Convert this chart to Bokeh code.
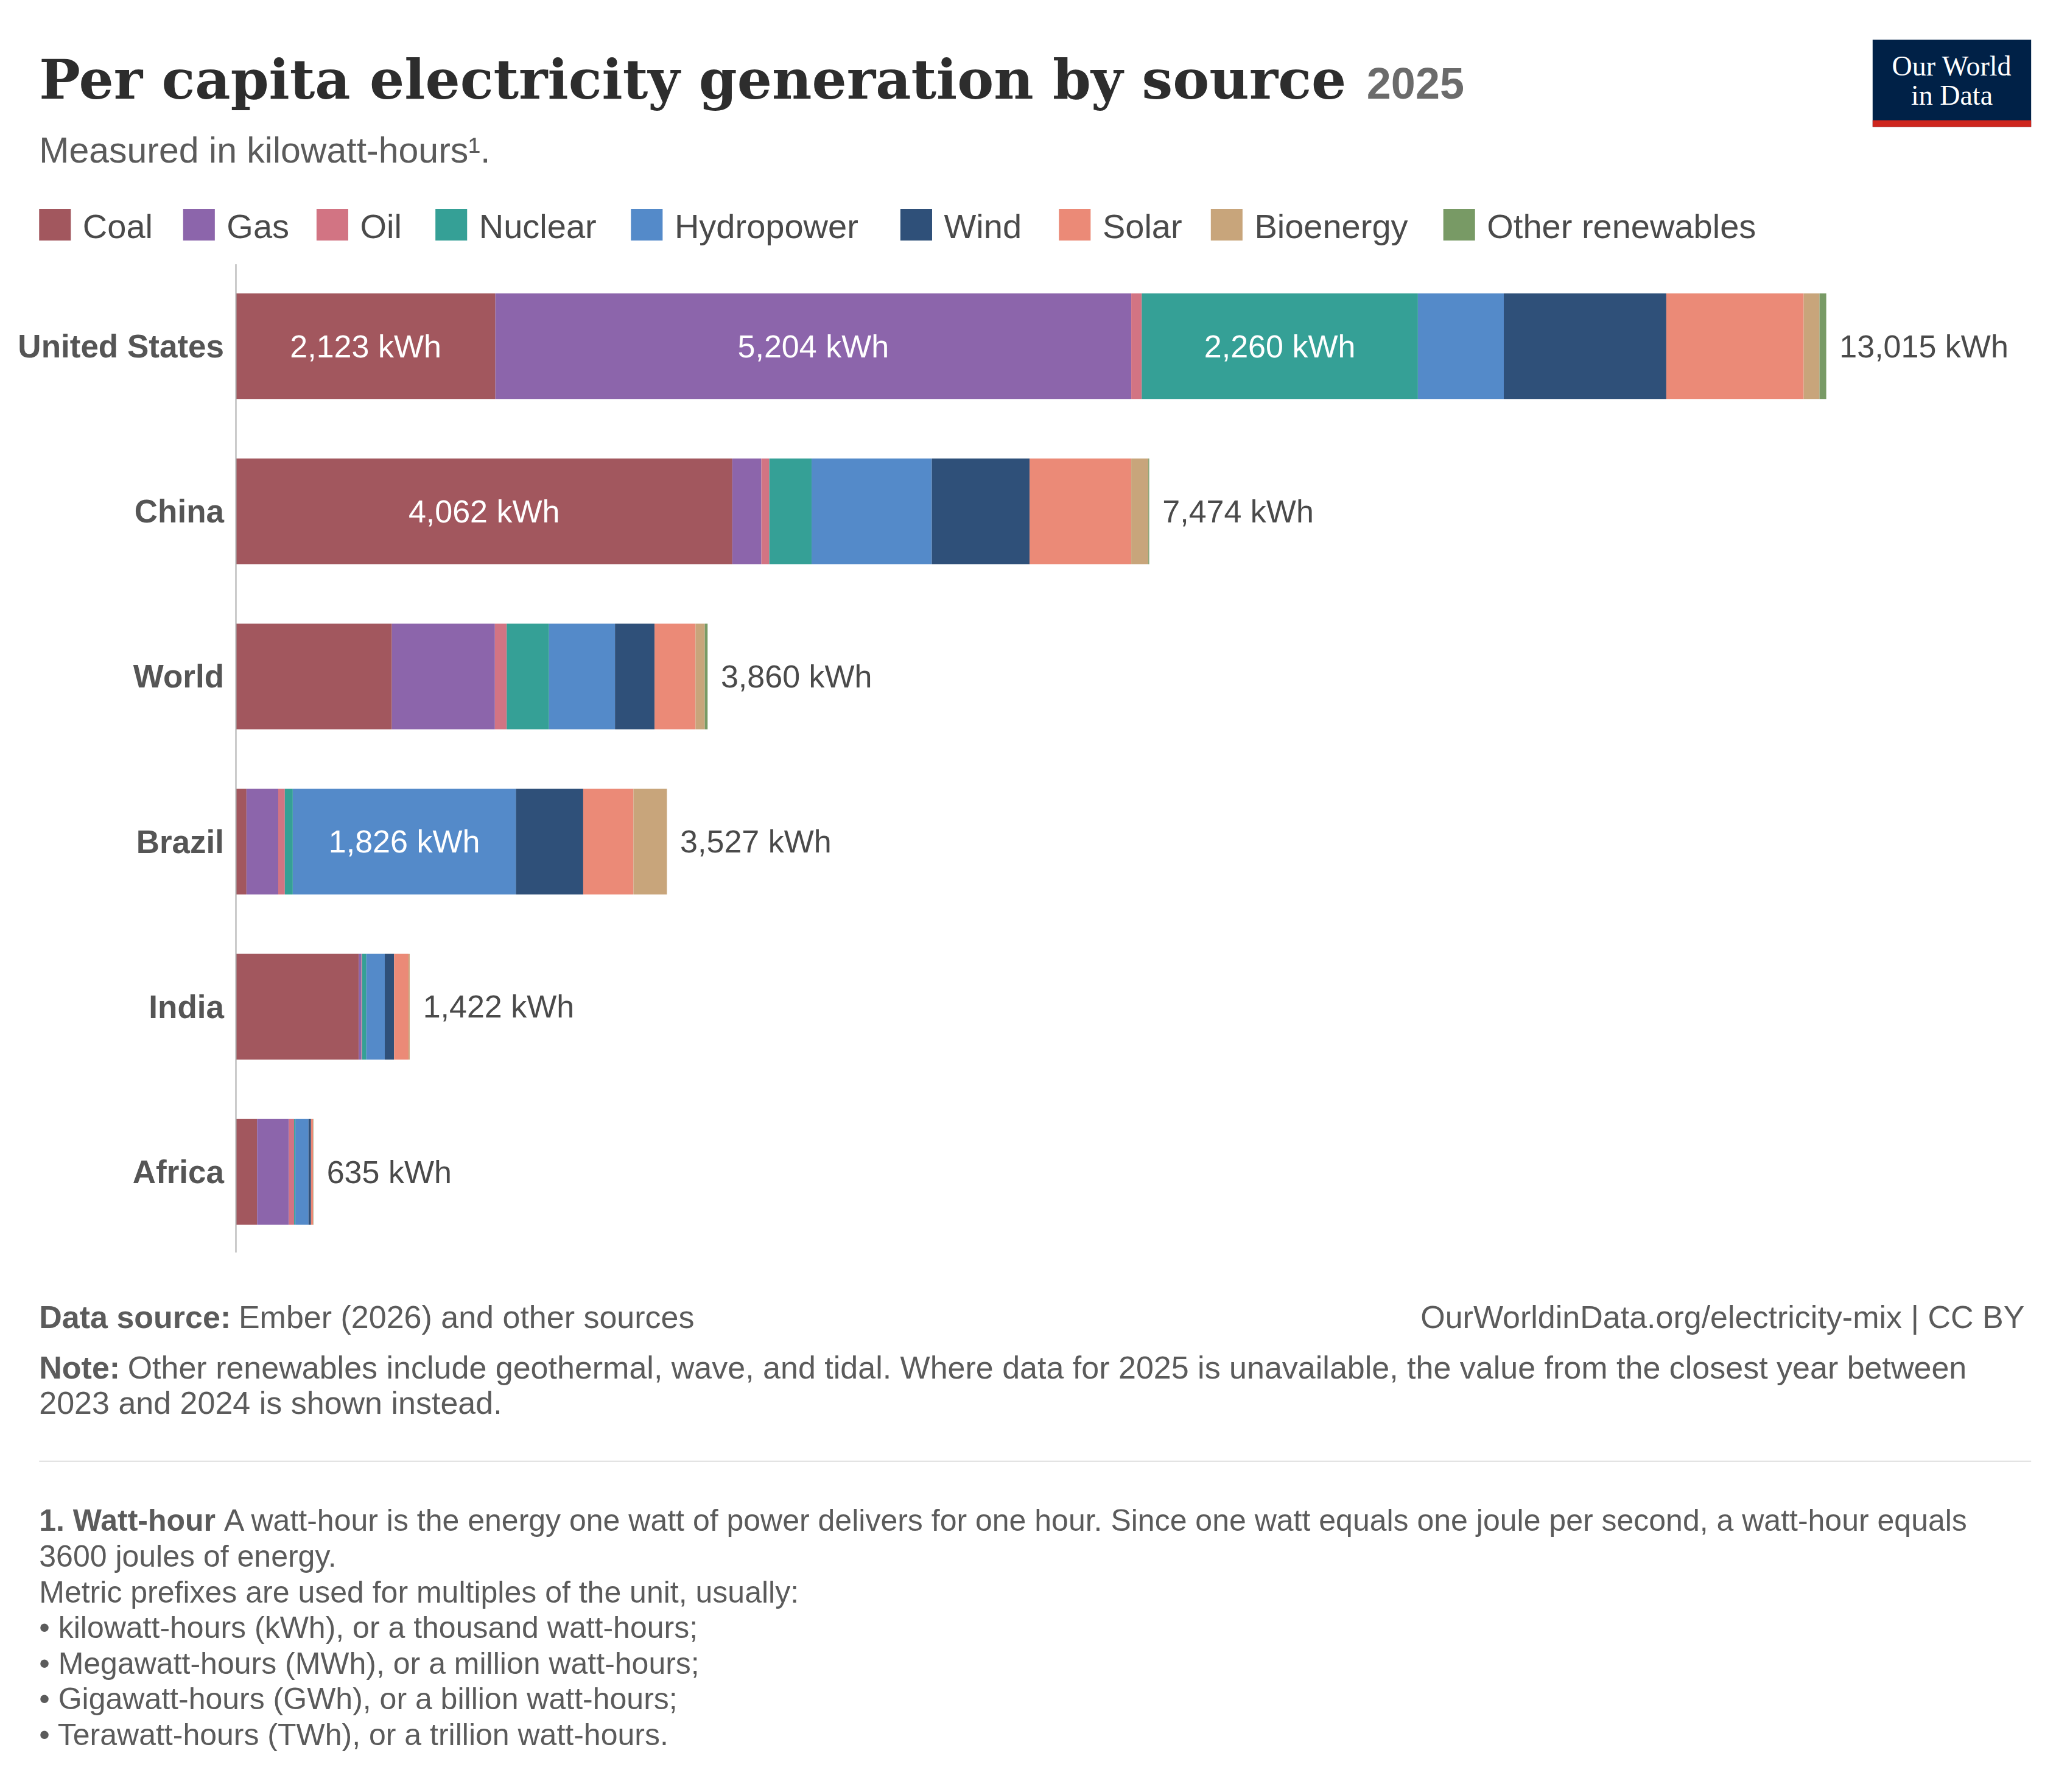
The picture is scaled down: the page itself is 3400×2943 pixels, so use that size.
from bokeh.plotting import figure
from bokeh.models import Range1d
from bokeh.core.properties import value
from bokeh.embed import file_html
from bokeh.resources import INLINE

countries = ["United States", "China", "World", "Brazil", "India", "Africa"]
sources = ["Coal", "Gas", "Oil", "Nuclear", "Hydropower", "Wind", "Solar", "Bioenergy", "Other renewables"]
colors = ["#A2575E", "#8C65AB", "#D27483", "#35A096", "#548AC9", "#2F5079", "#EB8A77", "#C8A57B", "#789A65"]
data = {
    "United States": [2123, 5204, 86, 2260, 703, 1330, 1124, 130, 55],
    "China":         [4062, 238, 65, 346, 984, 800, 832, 140, 7],
    "World":         [1276, 843, 97, 346, 540, 324, 335, 76, 23],
    "Brazil":        [86, 260, 54, 65, 1826, 551, 411, 274, 0],
    "India":         [1005, 22, 5, 35, 151, 76, 118, 10, 0],
    "Africa":        [173, 260, 43, 10, 108, 20, 17, 2, 2],
}
totals = [13015, 7474, 3860, 3527, 1422, 635]
inner_labels = {("United States", 0), ("United States", 1), ("United States", 3), ("China", 0), ("Brazil", 4)}

S = 2.1914 / 1.01
SF = 2.1914 / 1.01
W, H = 3384, 2927
PX = 0.0925  # display px per kWh
def kx(d):
    return (d - 179) / PX

x0d, x1d = 10 / S - 4, 10 / S - 4 + W / S
y0d, y1d = 8 / S - 3.5, 8 / S - 3.5 + H / S
p = figure(width=W, height=H, output_backend="svg", toolbar_location=None,
           x_range=Range1d(kx(x0d), kx(x1d)), y_range=Range1d(y1d, y0d),
           min_border=0, outline_line_color=None)
p.axis.visible = False
p.grid.visible = False
p.background_fill_color = "white"

SANS = "Liberation Sans"

def fs(d):
    return f"{d*SF:.0f}px"

def txt(x, y, t, size, color="#5b5b5b", font=SANS, style="normal", align="left", baseline="middle"):
    p.text(x=[x], y=[y], text=[t], text_font=value(font), text_font_size=fs(size),
           text_font_style=style, text_color=color, text_align=align, text_baseline=baseline)

ycent = [262, 387, 512, 637, 762, 887]
for ci, c in enumerate(countries):
    left = 0
    vals = data[c]
    for si, v in enumerate(vals):
        if v > 0:
            p.hbar(y=[ycent[ci]], left=[left], right=[left + v], height=80, color=colors[si], line_color=None)
        if (c, si) in inner_labels:
            txt(left + v / 2, ycent[ci], f"{v:,} kWh", 24, color="white", align="center")
        left += v
    txt(totals[ci] + 10 / PX, ycent[ci], f"{totals[ci]:,} kWh", 24, color="#4a4a4a")
    txt(kx(170), ycent[ci], c, 24.5, color="#555555", style="bold", align="right")

p.segment(x0=[0], x1=[0], y0=[200], y1=[948], line_color="#aaaaaa", line_width=2)

# title
txt(kx(30), 60, "Per capita electricity generation by source", 41.3, color="#2d2d2d", font="DejaVu Serif", style="bold")
txt(kx(1035), 63, "2025", 33, color="#6b6b6b", style="bold")
txt(kx(30), 114, "Measured in kilowatt-hours¹.", 27.4, color="#5b5b5b")

# legend
lx = [30, 139, 240, 330, 478, 682, 802, 917, 1093]
for i, s in enumerate(sources):
    p.rect(x=[kx(lx[i] + 12)], y=[170], width=24 / PX, height=24, color=colors[i], line_color=None)
    txt(kx(lx[i] + 33), 171, s, 26, color="#4a4a4a")

# logo
p.quad(left=[kx(1418)], right=[kx(1538)], top=[30], bottom=[96], color="#002147", line_color=None)
p.quad(left=[kx(1418)], right=[kx(1538)], top=[91], bottom=[96], color="#CE261E", line_color=None)
txt(kx(1478), 50, "Our World", 21, color="white", align="center", font="Liberation Serif")
txt(kx(1478), 72, "in Data", 21, color="white", align="center", font="Liberation Serif")

# footer
FS = 24
txt(kx(30), 997, "Data source:", FS, style="bold")
txt(kx(181), 997, "Ember (2026) and other sources", FS)
txt(kx(1533), 997, "OurWorldinData.org/electricity-mix | CC BY", FS, align="right")
txt(kx(30), 1035, "Note:", FS, style="bold")
txt(kx(97), 1035, "Other renewables include geothermal, wave, and tidal. Where data for 2025 is unavailable, the value from the closest year between", FS)
txt(kx(30), 1062, "2023 and 2024 is shown instead.", FS)
p.segment(x0=[kx(30)], x1=[kx(1538)], y0=[1106], y1=[1106], line_color="#dddddd", line_width=2)
FN = 23.2
txt(kx(30), 1151, "1. Watt-hour", FN, style="bold")
txt(kx(170), 1151, "A watt-hour is the energy one watt of power delivers for one hour. Since one watt equals one joule per second, a watt-hour equals", FN)
foot = ["3600 joules of energy.",
        "Metric prefixes are used for multiples of the unit, usually:",
        "• kilowatt-hours (kWh), or a thousand watt-hours;",
        "• Megawatt-hours (MWh), or a million watt-hours;",
        "• Gigawatt-hours (GWh), or a billion watt-hours;",
        "• Terawatt-hours (TWh), or a trillion watt-hours."]
for i, l in enumerate(foot):
    txt(kx(30), 1178 + 27 * i, l, FN)

open("out.html", "w").write(file_html(p, INLINE))
